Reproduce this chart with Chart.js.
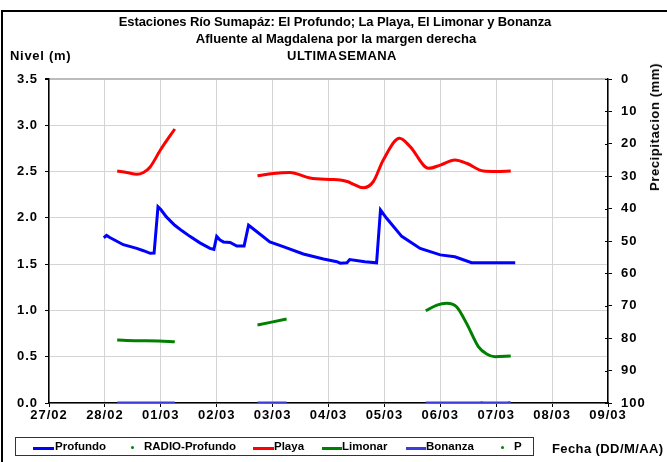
<!DOCTYPE html>
<html>
<head>
<meta charset="utf-8">
<script src="https://cdn.jsdelivr.net/npm/chart.js@4.4.1/dist/chart.umd.min.js"></script>
<style>
  html, body { margin:0; padding:0; background:#fff; }
  #wrap { position:relative; width:667px; height:462px; overflow:hidden; font-family:"Liberation Sans", Arial, sans-serif; font-weight:bold; color:#000; }
  #frame { position:absolute; left:1px; top:10px; width:720px; height:520px; border:2px solid #000; box-sizing:border-box; }
  canvas { position:absolute; left:0; top:0; }
  .t { position:absolute; white-space:nowrap; font-size:13px; line-height:16px; }
  .ctr { transform:translateX(-50%); text-align:center; }
  #legend { position:absolute; left:15px; top:437px; width:519px; height:19px; border:1px solid #333; box-sizing:border-box; }
  .li { position:absolute; top:2px; font-size:11.5px; line-height:13px; white-space:nowrap; }
  .ln { position:absolute; top:9px; height:3px; }
  .dot { position:absolute; top:8px; width:3px; height:3px; border-radius:50%; background:#008000; }
</style>
</head>
<body>
<div id="wrap">
  <div id="frame"></div>
  <canvas id="c" width="667" height="462"></canvas>
  <div class="t ctr" style="left:335px; top:14px; letter-spacing:-0.1px;">Estaciones Río Sumapáz: El Profundo; La Playa, El Limonar y Bonanza</div>
  <div class="t ctr" style="left:336px; top:31px;">Afluente al Magdalena por la margen derecha</div>
  <div class="t ctr" style="left:342px; top:48px; word-spacing:-3px; letter-spacing:0.4px;">ULTIMA SEMANA</div>
  <div class="t" style="left:10px; top:48px; letter-spacing:0.7px;">Nivel (m)</div>
  <div class="t" style="left:655px; top:127px; letter-spacing:0.6px; transform:translate(-50%,-50%) rotate(-90deg);">Precipitacion (mm)</div>
  <div id="legend">
    <div class="ln" style="left:17px; width:21px; background:#0000ff;"></div>
    <div class="li" style="left:39px;">Profundo</div>
    <div class="dot" style="left:115px;"></div>
    <div class="li" style="left:128px;">RADIO-Profundo</div>
    <div class="ln" style="left:237px; width:21px; background:#ff0000;"></div>
    <div class="li" style="left:258px;">Playa</div>
    <div class="ln" style="left:306px; width:20px; background:#008000;"></div>
    <div class="li" style="left:326px;">Limonar</div>
    <div class="ln" style="left:390px; width:20px; background:#3c3cd8;"></div>
    <div class="li" style="left:410px;">Bonanza</div>
    <div class="dot" style="left:485px;"></div>
    <div class="li" style="left:498px;">P</div>
  </div>
  <div class="t" style="left:552px; top:441px; letter-spacing:0.4px;">Fecha (DD/M/AA)</div>
</div>
<script>
// ---- data ----
const dateLabels = ['27/02','28/02','01/03','02/03','03/03','04/03','05/03','06/03','07/03','08/03','09/03'];
const levelTicks = [0, 0.5, 1.0, 1.5, 2.0, 2.5, 3.0, 3.5];

const profundoDays   = [0.98,1.03,1.08,1.33,1.57,1.69,1.81,1.88,1.95,2.00,2.10,2.25,2.38,2.52,2.70,2.88,2.95,3.00,3.06,3.12,3.24,3.36,3.49,3.57,3.72,3.95,4.19,4.55,4.91,5.15,5.21,5.33,5.38,5.65,5.86,5.93,6.04,6.31,6.64,7.00,7.26,7.56,8.34];
const profundoLevels = [1.785,1.81,1.79,1.71,1.67,1.645,1.617,1.62,2.12,2.09,2.01,1.92,1.86,1.80,1.73,1.67,1.66,1.80,1.76,1.74,1.735,1.695,1.695,1.92,1.85,1.74,1.69,1.61,1.555,1.526,1.51,1.515,1.55,1.526,1.515,2.085,1.995,1.80,1.67,1.60,1.58,1.515,1.515];

const playaDays   = [1.22,1.39,1.57,1.69,1.81,1.99,2.25,3.0,3.73,4.01,4.31,4.67,5.03,5.21,5.35,5.44,5.62,5.80,5.98,6.27,6.46,6.79,7.00,7.26,7.47,7.77,8.00,8.26];
const playaLevels = [2.505,2.49,2.47,2.49,2.55,2.73,2.96,null,2.455,2.48,2.49,2.43,2.415,2.41,2.39,2.365,2.325,2.39,2.625,2.86,2.77,2.535,2.57,2.625,2.59,2.505,2.50,2.505];

const limonarDays   = [1.22,1.54,1.96,2.25,3.0,3.73,4.25,5.5,6.74,6.94,7.11,7.29,7.47,7.68,7.83,7.98,8.26];
const limonarLevels = [0.68,0.673,0.67,0.662,null,0.842,0.907,null,0.997,1.058,1.077,1.04,0.86,0.61,0.53,0.50,0.507];

const bonanzaDays   = [1.22,2.25,3.0,3.73,4.25,5.5,6.74,8.26];
const bonanzaLevels = [0,0,null,0,0,null,0,0];

const radioProfundoDays = [];
const radioProfundoLevels = [];

const pDays   = [7.74,8.23];
const pLevels = [0,0];

function pts(xs, ys){ return xs.map((x,i)=>({x:x, y:ys[i]})); }

const FONT = {family:'"Liberation Sans", Arial, sans-serif', size:13, weight:'bold'};
const GRID = '#d4d4d4';

const spacingPlugin = {
  id:'spacing',
  beforeDraw(chart){ chart.ctx.letterSpacing = '1px'; }
};
const crossTicks = {
  id:'crossTicks',
  afterDraw(chart){
    const s = chart.scales.y2, ctx = chart.ctx;
    ctx.save(); ctx.strokeStyle = '#000'; ctx.lineWidth = 1;
    s.ticks.forEach(t=>{ const y = Math.round(s.getPixelForValue(t.value)) + 0.5; ctx.beginPath(); ctx.moveTo(s.left-3, y); ctx.lineTo(s.left, y); ctx.stroke(); });
    ctx.restore();
  }
};

new Chart(document.getElementById('c'), {
  type:'line',
  plugins:[spacingPlugin, crossTicks],
  data:{
    datasets:[
      {label:'Profundo', data:pts(profundoDays, profundoLevels), borderColor:'#0000ff', borderWidth:3, pointRadius:0, tension:0, yAxisID:'y'},
      {label:'RADIO-Profundo', data:pts(radioProfundoDays, radioProfundoLevels), borderColor:'#008000', backgroundColor:'#008000', showLine:false, pointRadius:1.5, yAxisID:'y'},
      {label:'Playa', data:pts(playaDays, playaLevels), borderColor:'#ff0000', borderWidth:3, pointRadius:0, cubicInterpolationMode:'monotone', spanGaps:false, yAxisID:'y'},
      {label:'Limonar', data:pts(limonarDays, limonarLevels), borderColor:'#008000', borderWidth:3, pointRadius:0, cubicInterpolationMode:'monotone', spanGaps:false, yAxisID:'y'},
      {label:'Bonanza', data:pts(bonanzaDays, bonanzaLevels), borderColor:'#3c3cd8', borderWidth:3, pointRadius:0, spanGaps:false, yAxisID:'y'},
      {label:'P', data:pts(pDays, pLevels), borderColor:'#008000', backgroundColor:'#008000', showLine:false, pointRadius:1.8, pointBorderWidth:0, yAxisID:'y'}
    ]
  },
  options:{
    responsive:false, animation:false, devicePixelRatio:1,
    layout:{padding:{left:0, right:0, top:79, bottom:39}},
    plugins:{legend:{display:false}, title:{display:false}, tooltip:{enabled:false}},
    scales:{
      x:{
        type:'linear', min:0, max:10,
        afterBuildTicks:(s)=>{ s.ticks = dateLabels.map((_,i)=>({value:i})); },
        afterFit:(s)=>{ s.height = 20; },
        ticks:{color:'#000', font:FONT, padding:1, maxRotation:0, autoSkip:false, callback:(v)=>dateLabels[v]},
        grid:{color:GRID, lineWidth:1, tickLength:4, tickColor:'#000'},
        border:{color:'#000', width:1.5}
      },
      y:{
        position:'left', min:0, max:3.5,
        afterBuildTicks:(s)=>{ s.ticks = levelTicks.map(v=>({value:v})); },
        afterFit:(s)=>{ s.width = 49; },
        ticks:{color:'#000', font:FONT, padding:7, callback:(v)=>Number(v).toFixed(1)},
        grid:{color:(ctx)=> ctx.tick && ctx.tick.value===3.5 ? '#bcbcbc' : GRID, lineWidth:(ctx)=> ctx.tick && ctx.tick.value===3.5 ? 2 : 1, tickLength:4, tickColor:'#000'},
        border:{color:'#000', width:1.5}
      },
      y2:{
        position:'right', min:0, max:100, reverse:true,
        afterFit:(s)=>{ s.width = 59; },
        ticks:{color:'#000', font:FONT, padding:9, stepSize:10},
        grid:{drawOnChartArea:false, tickLength:4, tickColor:'#000'},
        border:{color:'#000', width:1.5}
      }
    }
  }
});
</script>
</body>
</html>
